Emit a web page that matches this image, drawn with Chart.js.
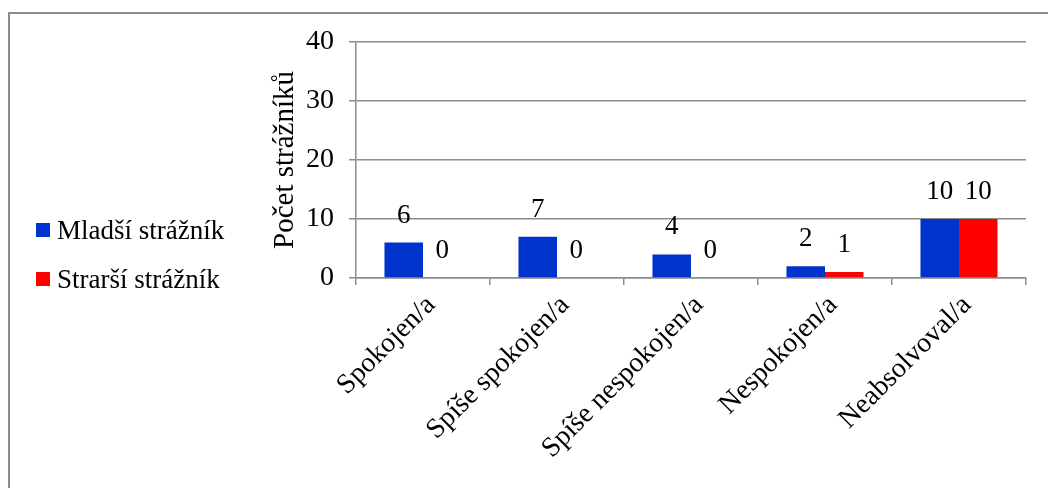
<!DOCTYPE html>
<html>
<head>
<meta charset="utf-8">
<script src="https://cdn.jsdelivr.net/npm/chart.js@4/dist/chart.umd.min.js"></script>
<style>
  html, body { margin: 0; padding: 0; background: #fff; overflow: hidden; }
  #wrap { position: relative; width: 1048px; height: 488px; }
  #frame { position: absolute; left: 8px; top: 12px; width: 1100px; height: 600px;
           border-top: 2px solid #8c8c8c; border-left: 2px solid #8c8c8c; box-sizing: border-box; }
  #chart { position: absolute; left: 0; top: 0; }
  #legend { position: absolute; left: 36px; top: 0; font-family: "Liberation Serif", "Times New Roman", serif;
            font-size: 27px; color: #000; }
  .item { position: absolute; left: 0; display: flex; align-items: center; white-space: nowrap; height: 30px; }
  .sw { width: 14px; height: 14px; margin-right: 7px; }
</style>
</head>
<body>
<div id="wrap">
  <div id="frame"></div>
  <canvas id="chart" width="1048" height="488"></canvas>
  <div id="legend"></div>
</div>
<script>
const categories = ["Spokojen/a", "Spíše spokojen/a", "Spíše nespokojen/a", "Nespokojen/a", "Neabsolvoval/a"];
const seriesNames = ["Mladší strážník", "Strarší strážník"];
const youngerValues = [6, 7, 4, 2, 10];
const olderValues = [0, 0, 0, 1, 10];
const seriesColors = ["#0033cc", "#ff0000"];
const yTicks = [0, 10, 20, 30, 40];

const FONT = "Liberation Serif";

// Value labels drawn just above each bar
const valueLabels = {
  id: "valueLabels",
  afterDatasetsDraw(chart) {
    const ctx = chart.ctx;
    ctx.save();
    ctx.font = "27px '" + FONT + "'";
    ctx.fillStyle = "#000";
    ctx.textAlign = "center";
    ctx.textBaseline = "middle";
    chart.data.datasets.forEach((ds, i) => {
      chart.getDatasetMeta(i).data.forEach((bar, j) => {
        ctx.fillText(String(ds.data[j]), bar.x, bar.y - 27);
      });
    });
    ctx.restore();
  }
};

new Chart(document.getElementById("chart"), {
  type: "bar",
  data: {
    labels: categories,
    datasets: [
      { label: seriesNames[0], data: youngerValues, backgroundColor: seriesColors[0] },
      { label: seriesNames[1], data: olderValues, backgroundColor: seriesColors[1] }
    ]
  },
  options: {
    responsive: false,
    animation: false,
    devicePixelRatio: 1,
    layout: { padding: { left: 266, right: 22, top: 42, bottom: 0 } },
    plugins: { legend: { display: false }, tooltip: { enabled: false } },
    datasets: { bar: { categoryPercentage: 0.575, barPercentage: 1.0 } },
    scales: {
      x: {
        afterFit(scale) { scale.height = 210; },
        grid: { offset: true, drawOnChartArea: false, drawTicks: true, tickLength: 7, color: "#8c8c8c", lineWidth: 1.5 },
        border: { color: "#8c8c8c", width: 1.5 },
        ticks: { minRotation: 45, maxRotation: 45, autoSkip: false, color: "#000", padding: 4, labelOffset: 8,
                 font: { family: FONT, size: 28 } }
      },
      y: {
        min: 0, max: 40,
        afterFit(scale) { scale.width = 90; },
        afterBuildTicks(scale) { scale.ticks = yTicks.map(v => ({ value: v })); },
        grid: { color: "#8c8c8c", lineWidth: 1.5, tickLength: 7 },
        border: { color: "#8c8c8c", width: 1.5 },
        ticks: { color: "#000", padding: 15, font: { family: FONT, size: 28 } },
        title: { display: true, text: "Počet strážníků", color: "#000", padding: { top: 2, bottom: 0 },
                 font: { family: FONT, size: 29 } }
      }
    }
  },
  plugins: [valueLabels]
});

// Legend entries beside the plot
const legend = document.getElementById("legend");
const legendY = [230, 279];
seriesNames.forEach((name, i) => {
  const item = document.createElement("div");
  item.className = "item";
  item.style.top = (legendY[i] - 15) + "px";
  const sw = document.createElement("span");
  sw.className = "sw";
  sw.style.background = seriesColors[i];
  const tx = document.createElement("span");
  tx.textContent = name;
  item.appendChild(sw);
  item.appendChild(tx);
  legend.appendChild(item);
});
</script>
</body>
</html>
